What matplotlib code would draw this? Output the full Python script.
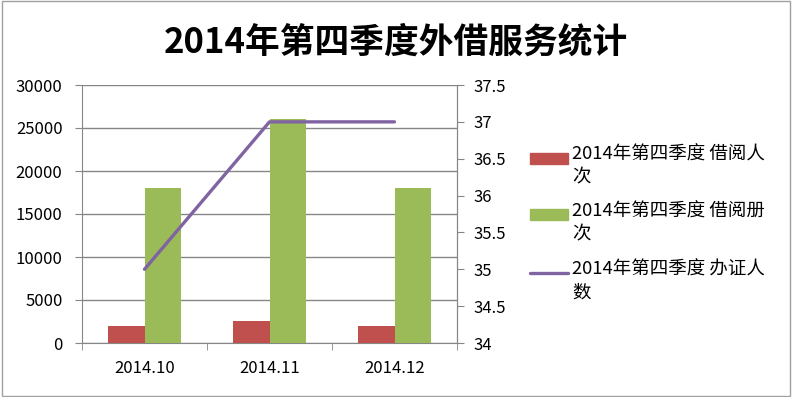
import matplotlib.pyplot as plt
import numpy as np
from matplotlib.patches import Rectangle
from matplotlib.lines import Line2D

plt.rcParams['font.family'] = ['Noto Sans CJK SC', 'DejaVu Sans']

# ── 数据 ──
months = ['2014.10', '2014.11', '2014.12']
borrow_people = [2000, 2600, 2000]      # 借阅人次
borrow_books = [18000, 26100, 18000]    # 借阅册次
new_cards = [35, 37, 37]                # 办证人数

labels = ['2014年第四季度 借阅人\n次', '2014年第四季度 借阅册\n次', '2014年第四季度 办证人\n数']
RED, GREEN, PURPLE = '#C0504D', '#9BBB59', '#8064A2'
GRID = '#868686'
W, H = 792, 397

fig = plt.figure(figsize=(7.92, 3.97), dpi=100)
ax = fig.add_axes([82/W, 1-343/H, 375/W, 258/H])
ax2 = ax.twinx()

x = np.arange(len(months))
w = 0.29
ax.bar(x - w/2, borrow_people, width=w, color=RED, zorder=3)
ax.bar(x + w/2, borrow_books, width=w, color=GREEN, zorder=3)
ax2.plot(x, new_cards, color=PURPLE, linewidth=2.4, solid_capstyle='round')

ax.set_xlim(-0.5, 2.5)
ax.set_ylim(0, 30000)
ax.set_yticks(range(0, 30001, 5000))
ax2.set_ylim(34, 37.5)
ax2.set_yticks(np.arange(34, 37.51, 0.5))
ax2.set_yticklabels(['34', '34.5', '35', '35.5', '36', '36.5', '37', '37.5'])

ax.set_xticks(x)
ax.set_xticklabels(months)
ax.set_xticks([-0.5, 0.5, 1.5, 2.5], minor=True)
ax.tick_params(axis='x', which='major', length=0, pad=12, labelsize=12)
ax.tick_params(axis='x', which='minor', length=5, color=GRID)
ax.tick_params(axis='y', length=5, color=GRID, labelsize=12, pad=9)
ax2.tick_params(axis='y', length=5, color=GRID, labelsize=12, pad=7)

ax.yaxis.grid(True, color=GRID, linewidth=1, zorder=0)
ax.set_axisbelow(True)
for a in (ax, ax2):
    a.spines['top'].set_visible(False)
    for s in ('left', 'right', 'bottom'):
        a.spines[s].set_color(GRID)
ax2.spines['left'].set_visible(False)
ax2.spines['bottom'].set_visible(False)

fig.text(0.5, 1-42/H, '2014年第四季度外借服务统计', fontsize=25, fontweight='bold',
         ha='center', va='center')

# 图例 (手动, 句柄对齐第一行)
tops = [158, 215, 273]
for i, (lab, y) in enumerate(zip(labels, tops)):
    yf = 1 - y/H
    if i < 2:
        fig.add_artist(Rectangle((530/W, yf - 5.5/H), 38/W, 11/H, transform=fig.transFigure,
                                 color=[RED, GREEN][i]))
    else:
        fig.add_artist(Line2D([530/W, 568/W], [yf, yf], transform=fig.transFigure,
                              color=PURPLE, linewidth=2.4, solid_capstyle='round'))
    fig.text(572/W, 1 - (y - 12)/H, lab, fontsize=13.3, ha='left', va='top',
             linespacing=1.35)

fig.add_artist(Rectangle((0.002, 0.003), 0.995, 0.994, transform=fig.transFigure,
                         fill=False, edgecolor='#A0A0A0', linewidth=1))

fig.savefig('out.png', dpi=100)
